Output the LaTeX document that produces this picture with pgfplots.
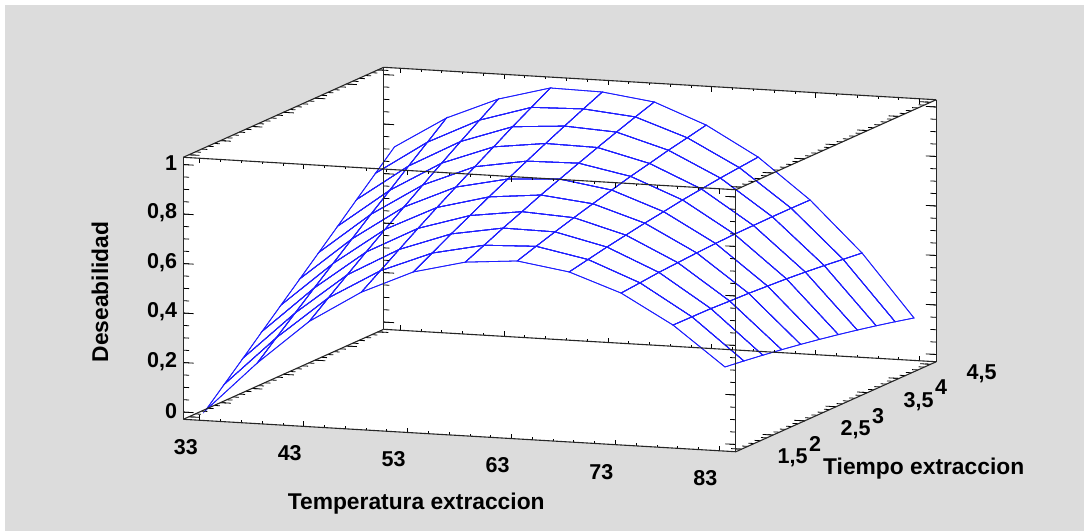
\documentclass[border=0pt]{standalone}
\usepackage{pgfplots}
\usepackage{pgfplotstable}
\usepackage{fontspec}
\setmainfont{Liberation Sans}
\pgfplotsset{compat=1.18}
\usetikzlibrary{backgrounds,calc}
\definecolor{bggrey}{RGB}{220,220,220}
\definecolor{meshblue}{RGB}{30,30,255}
\tikzset{boxtick/.style={black,line width=0.8pt}}
\newcommand{\xticksat}[3]{\pgfplotsinvokeforeach{#1}{%
  \draw[boxtick] (axis cs:##1,1.41,-0.0293)--(axis cs:##1,1.41,#2);
  \draw[boxtick] (axis cs:##1,4.59,-0.0293)--(axis cs:##1,4.59,#2);
  \draw[boxtick] (axis cs:##1,1.41,1.0293)--(axis cs:##1,1.41,#3);
  \draw[boxtick] (axis cs:##1,4.59,1.0293)--(axis cs:##1,4.59,#3);}}
\newcommand{\yticksat}[3]{\pgfplotsinvokeforeach{#1}{%
  \draw[boxtick] (axis cs:31.41,##1,-0.0293)--(axis cs:#2,##1,-0.0293);
  \draw[boxtick] (axis cs:31.41,##1,1.0293)--(axis cs:#2,##1,1.0293);
  \draw[boxtick] (axis cs:84.59,##1,-0.0293)--(axis cs:#3,##1,-0.0293);
  \draw[boxtick] (axis cs:84.59,##1,1.0293)--(axis cs:#3,##1,1.0293);}}
\newcommand{\zticksat}[3]{\pgfplotsinvokeforeach{#1}{%
  \draw[boxtick] (axis cs:31.41,1.41,##1)--(axis cs:#2,1.41,##1);
  \draw[boxtick] (axis cs:31.41,4.59,##1)--(axis cs:#2,4.59,##1);
  \draw[boxtick] (axis cs:84.59,1.41,##1)--(axis cs:#3,1.41,##1);
  \draw[boxtick] (axis cs:84.59,4.59,##1)--(axis cs:#3,4.59,##1);}}
\pgfplotstableread[row sep=\\]{
T t z\\
33 1.5 0\\ 33 1.8 .072\\ 33 2.1 .144\\ 33 2.4 .217\\ 33 2.7 .289\\ 33 3.0 .361\\ 33 3.3 .433\\ 33 3.6 .505\\ 33 3.9 .578\\ 33 4.2 .650\\ 33 4.5 .722\\
38 1.5 .205\\ 38 1.8 .272\\ 38 2.1 .338\\ 38 2.4 .404\\ 38 2.7 .469\\ 38 3.0 .534\\ 38 3.3 .599\\ 38 3.6 .662\\ 38 3.9 .726\\ 38 4.2 .788\\ 38 4.5 .851\\
43 1.5 .385\\ 43 1.8 .445\\ 43 2.1 .504\\ 43 2.4 .562\\ 43 2.7 .619\\ 43 3.0 .675\\ 43 3.3 .730\\ 43 3.6 .784\\ 43 3.9 .837\\ 43 4.2 .889\\ 43 4.5 .940\\
48 1.5 .515\\ 48 1.8 .567\\ 48 2.1 .619\\ 48 2.4 .670\\ 48 2.7 .720\\ 48 3.0 .768\\ 48 3.3 .816\\ 48 3.6 .862\\ 48 3.9 .909\\ 48 4.2 .953\\ 48 4.5 .997\\
53 1.5 .609\\ 53 1.8 .651\\ 53 2.1 .694\\ 53 2.4 .734\\ 53 2.7 .775\\ 53 3.0 .813\\ 53 3.3 .851\\ 53 3.6 .888\\ 53 3.9 .924\\ 53 4.2 .959\\ 53 4.5 .993\\
58 1.5 .661\\ 58 1.8 .695\\ 58 2.1 .730\\ 58 2.4 .762\\ 58 2.7 .795\\ 58 3.0 .825\\ 58 3.3 .855\\ 58 3.6 .884\\ 58 3.9 .912\\ 58 4.2 .939\\ 58 4.5 .965\\
63 1.5 .678\\ 63 1.8 .703\\ 63 2.1 .727\\ 63 2.4 .750\\ 63 2.7 .772\\ 63 3.0 .793\\ 63 3.3 .814\\ 63 3.6 .832\\ 63 3.9 .851\\ 63 4.2 .867\\ 63 4.5 .884\\
68 1.5 .646\\ 68 1.8 .662\\ 68 2.1 .678\\ 68 2.4 .692\\ 68 2.7 .706\\ 68 3.0 .718\\ 68 3.3 .731\\ 68 3.6 .741\\ 68 3.9 .751\\ 68 4.2 .759\\ 68 4.5 .767\\
73 1.5 .573\\ 73 1.8 .580\\ 73 2.1 .588\\ 73 2.4 .593\\ 73 2.7 .598\\ 73 3.0 .602\\ 73 3.3 .605\\ 73 3.6 .606\\ 73 3.9 .607\\ 73 4.2 .607\\ 73 4.5 .606\\
78 1.5 .456\\ 78 1.8 .455\\ 78 2.1 .454\\ 78 2.4 .450\\ 78 2.7 .447\\ 78 3.0 .442\\ 78 3.3 .437\\ 78 3.6 .430\\ 78 3.9 .422\\ 78 4.2 .413\\ 78 4.5 .404\\
83 1.5 .299\\ 83 1.8 .289\\ 83 2.1 .278\\ 83 2.4 .266\\ 83 2.7 .253\\ 83 3.0 .239\\ 83 3.3 .224\\ 83 3.6 .208\\ 83 3.9 .191\\ 83 4.2 .173\\ 83 4.5 .154\\
}\surfacetable
\begin{document}
\begin{tikzpicture}
\begin{axis}[
  x={(10.39pt,-0.61pt)}, y={(63pt,28.3pt)}, z={(0pt,247.5pt)},
  disabledatascaling,
  xmin=31.41,xmax=84.59,ymin=1.41,ymax=4.59,zmin=-0.0293,zmax=1.0293,
  clip=false,
  axis on top,
  3d box=complete,
  axis line style={black!85,line width=1.1pt},
  major tick length=0pt, minor tick length=0pt,
  tick align=inside,
  xtick={33,43,53,63,73,83},
  ytick={1.5,2,2.5,3,3.5,4,4.5},
  ztick={0,0.2,0.4,0.6,0.8,1},
  tick label style={font=\fontsize{21.5pt}{24pt}\selectfont\bfseries,inner sep=0pt},
  /pgf/number format/.cd,use comma,assume math mode=true,
  /pgfplots/.cd,
  xticklabel style={anchor=center,xshift=-14pt,yshift=-27pt},
  yticklabel style={anchor=west,xshift=36pt,yshift=-9pt},
  zticklabel style={anchor=east,xshift=-6pt,yshift=1pt},
  xlabel={Temperatura extraccion},
  ylabel={Tiempo extraccion},
  zlabel={Deseabilidad},
  label style={font=\fontsize{22.8pt}{24pt}\selectfont\bfseries,inner sep=0pt},
  xlabel style={at={(axis cs:53.83,1.41,-0.3129)},anchor=center},
  ylabel style={at={(axis cs:102.67,1.41,-0.0537)},anchor=center},
  zlabel style={at={(axis cs:23.39,1.41,0.4655)},anchor=center},
  colormap={onlyblue}{color(0)=(meshblue) color(1)=(meshblue)},
]
\coordinate (c) at (axis cs:31.41,1.41,-0.0293);
\addplot3[fill=white,draw=none,forget plot] coordinates {
 (31.41,1.41,-0.0293) (31.41,1.41,1.0293) (31.41,4.59,1.0293)
 (84.59,4.59,1.0293) (84.59,4.59,-0.0293) (84.59,1.41,-0.0293)} -- cycle;
\addplot3[mesh,mesh/cols=11,line width=0.8pt,forget plot] table[x=T,y=t,z=z] {\surfacetable};
\addplot3[mesh,mesh/cols=11,line width=0.8pt,forget plot] table[x=T,y=t,z=z] {\surfacetable};
\xticksat{33,35,...,83}{-0.0193}{1.0193}
\xticksat{33,43,...,83}{-0.0093}{1.0093}
\yticksat{1.5,1.6,...,4.5}{31.96}{84.04}
\yticksat{1.5,2,...,4.5}{32.41}{83.59}
\zticksat{0,0.05,...,1}{31.96}{84.04}
\zticksat{0,0.2,...,1}{32.41}{83.59}
\end{axis}
\begin{scope}[on background layer]
\fill[white] ($(c)+(-183.3pt,-111.7pt)$) rectangle ($(c)+(900.7pt,419.3pt)$);
\fill[bggrey] ($(c)+(-178.3pt,-111.7pt)$) rectangle ($(c)+(900.7pt,414.3pt)$);
\end{scope}
\end{tikzpicture}
\end{document}
